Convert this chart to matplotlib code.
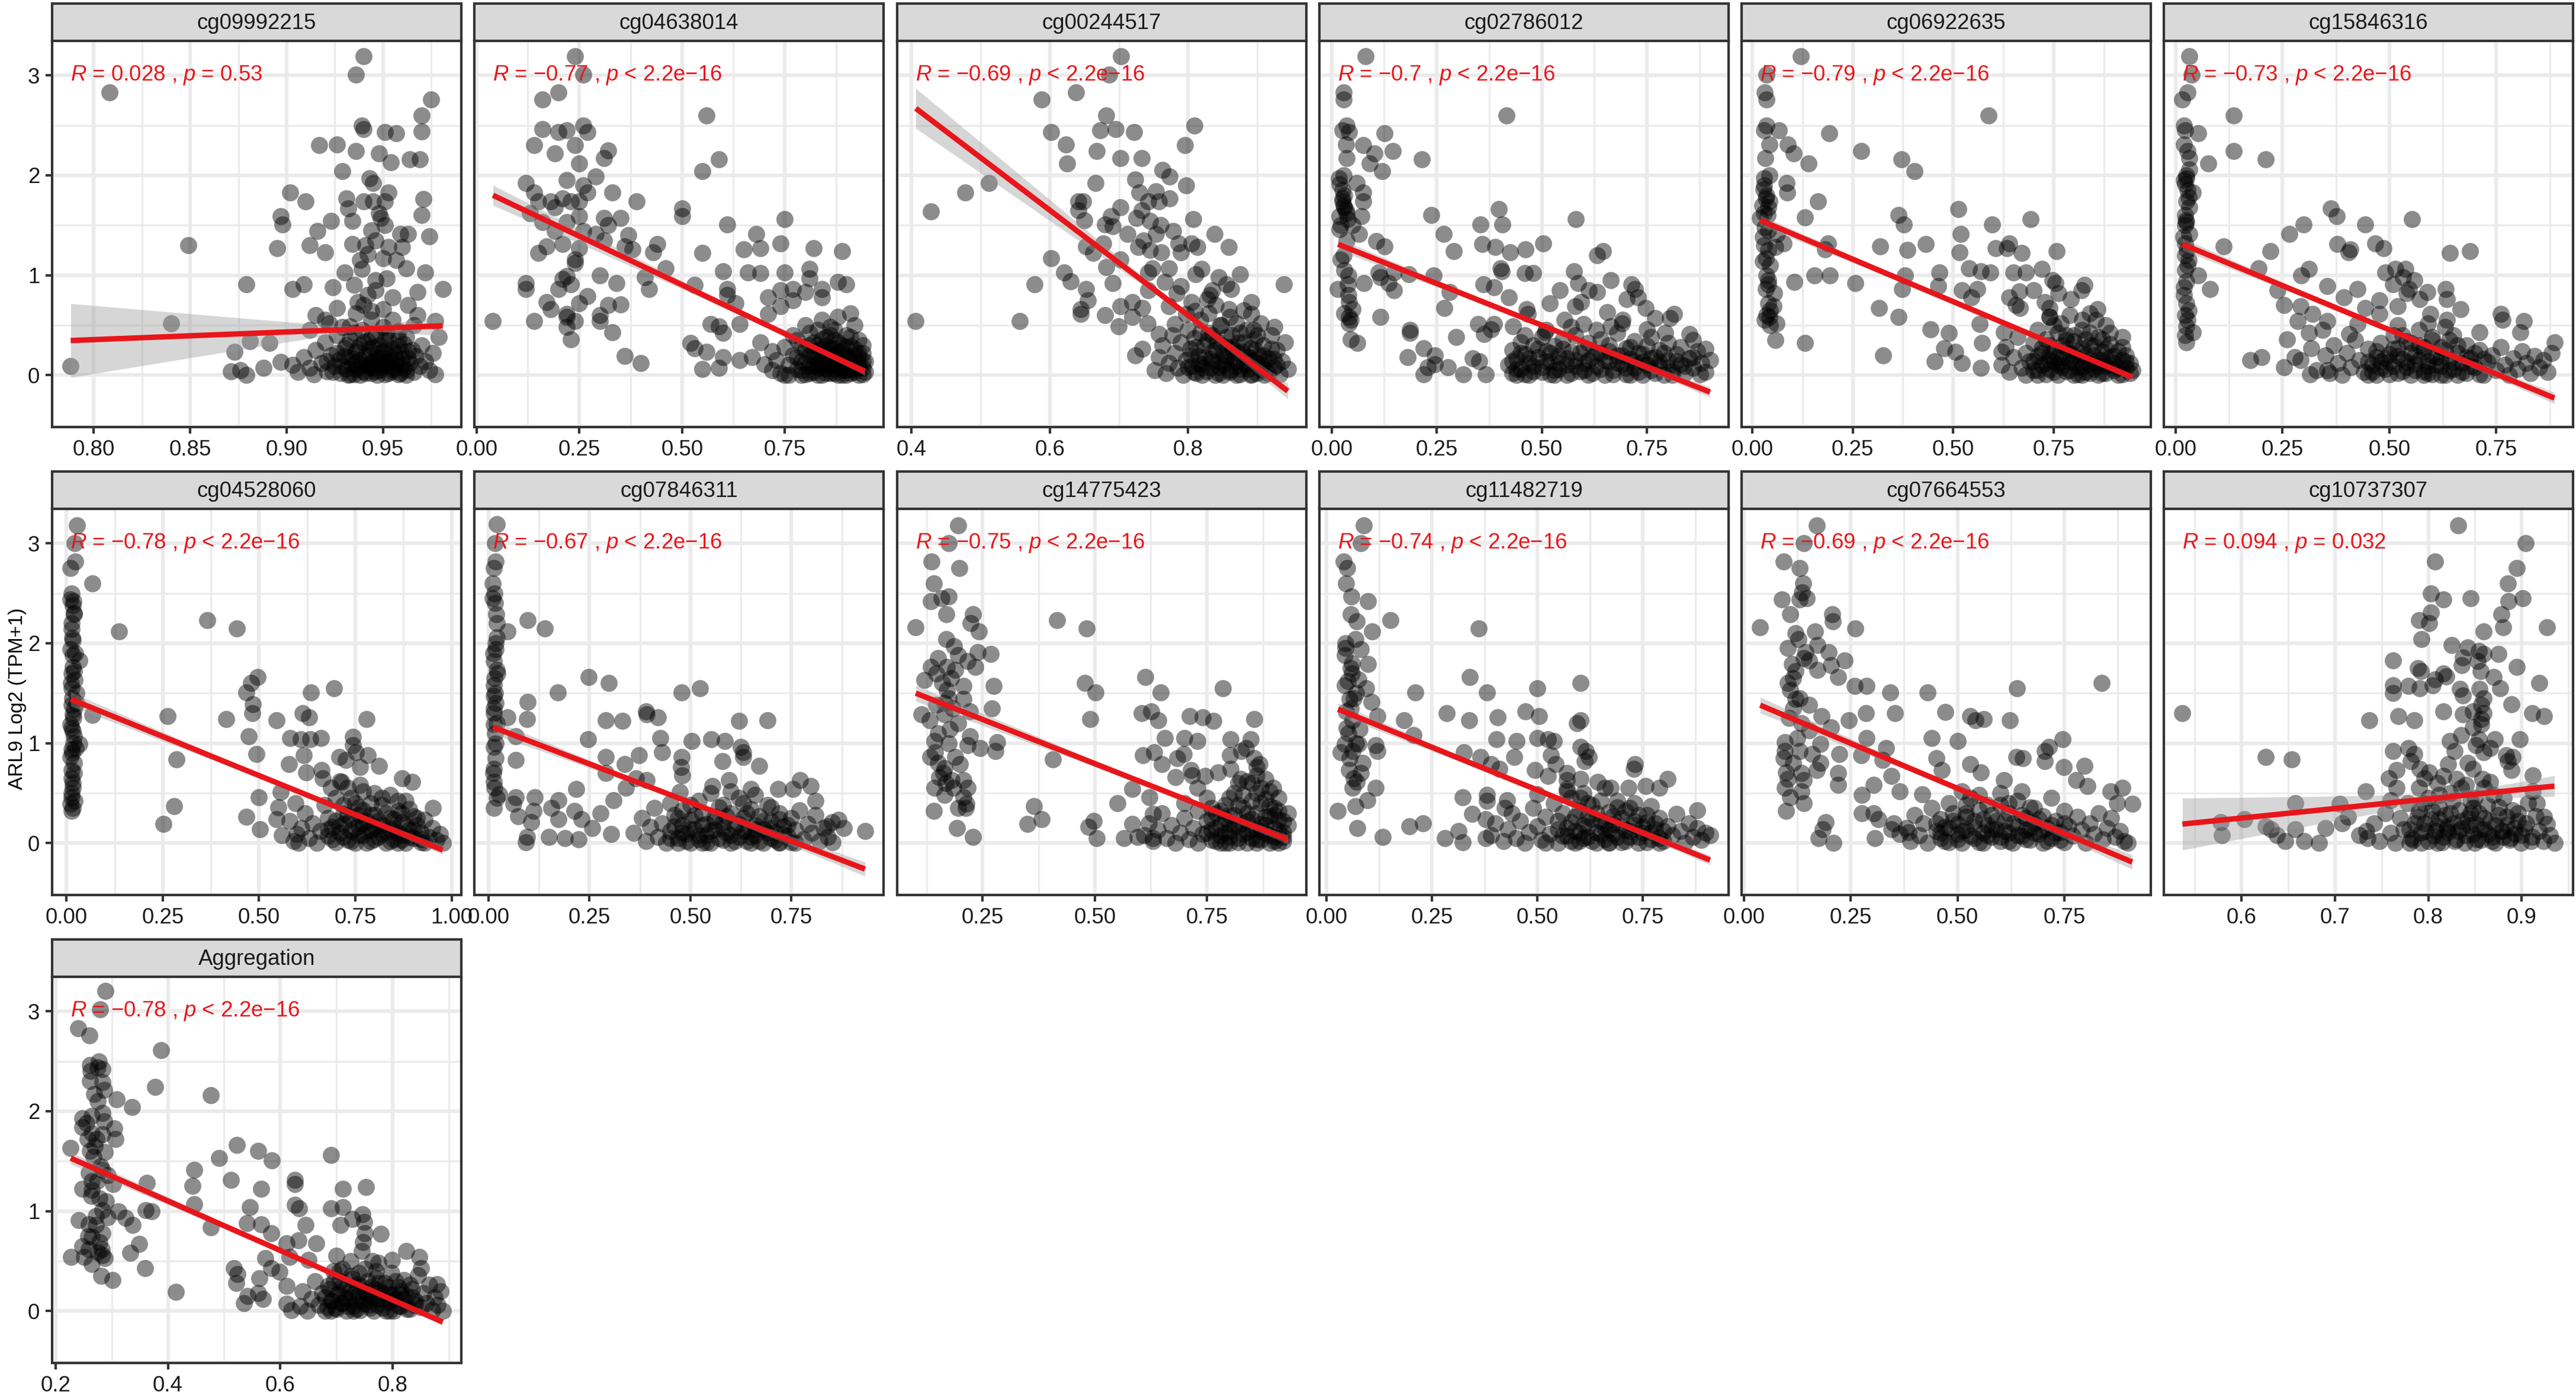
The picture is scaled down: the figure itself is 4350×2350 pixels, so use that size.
import numpy as np
import matplotlib
matplotlib.use('Agg')
import matplotlib.pyplot as plt

plt.rcParams['font.family'] = ['Liberation Sans', 'DejaVu Sans']
plt.rcParams['mathtext.fontset'] = 'custom'
plt.rcParams['mathtext.it'] = 'Liberation Sans:italic'
plt.rcParams['mathtext.rm'] = 'Liberation Sans'

panel_names = ['cg09992215', 'cg04638014', 'cg00244517', 'cg02786012', 'cg06922635', 'cg15846316',
               'cg04528060', 'cg07846311', 'cg14775423', 'cg11482719', 'cg07664553', 'cg10737307',
               'Aggregation']
r_labels = ['0.028', '\u22120.77', '\u22120.69', '\u22120.7', '\u22120.79', '\u22120.73',
            '\u22120.78', '\u22120.67', '\u22120.75', '\u22120.74', '\u22120.69', '0.094', '\u22120.78']
p_labels = ['= 0.53', '< 2.2e\u221216', '< 2.2e\u221216', '< 2.2e\u221216', '< 2.2e\u221216', '< 2.2e\u221216',
            '< 2.2e\u221216', '< 2.2e\u221216', '< 2.2e\u221216', '< 2.2e\u221216', '< 2.2e\u221216', '= 0.032',
            '< 2.2e\u221216']
fit_y_start = [0.346, 1.80, 2.67, 1.31, 1.55, 1.31, 1.44, 1.16, 1.50, 1.34, 1.38, 0.19, 1.53]
fit_y_end = [0.494, 0.035, -0.16, -0.17, -0.02, -0.23, -0.07, -0.26, 0.035, -0.17, -0.19, 0.57, -0.11]
band_center = [0.94, 0.74, 0.80, 0.50, 0.64, 0.47, 0.62, 0.47, 0.66, 0.53, 0.50, 0.83, 0.66]
band_hw_min = [0.03, 0.025, 0.03, 0.02, 0.02, 0.02, 0.02, 0.025, 0.025, 0.02, 0.025, 0.05, 0.02]
band_hw_start = [0.37, 0.10, 0.20, 0.06, 0.05, 0.06, 0.07, 0.07, 0.08, 0.06, 0.08, 0.26, 0.06]

q = [0.00, 0.25, 0.50, 0.75]
q_lab = ['0.00', '0.25', '0.50', '0.75']
x_ticks = [[0.80, 0.85, 0.90, 0.95], q, [0.4, 0.6, 0.8], q, q, q,
           [0.00, 0.25, 0.50, 0.75, 1.00], q, [0.25, 0.50, 0.75], q, q, [0.6, 0.7, 0.8, 0.9],
           [0.2, 0.4, 0.6, 0.8]]
x_tick_labels = [['0.80', '0.85', '0.90', '0.95'], q_lab, ['0.4', '0.6', '0.8'], q_lab, q_lab, q_lab,
                 ['0.00', '0.25', '0.50', '0.75', '1.00'], q_lab, ['0.25', '0.50', '0.75'], q_lab, q_lab,
                 ['0.6', '0.7', '0.8', '0.9'], ['0.2', '0.4', '0.6', '0.8']]
y_ticks = [0, 1, 2, 3]
y_tick_labels = ['0', '1', '2', '3']
y_minor = [-0.5, 0.5, 1.5, 2.5]
y_limits = (-0.52, 3.345)
y_title = 'ARL9 Log2 (TPM+1)'

# (x, y) pairs per panel
pts_cg09992215 = [
 0.940,3.19, 0.936,3.01, 0.808,2.83, 0.975,2.76, 0.970,2.60, 0.939,2.50, 0.940,2.46, 0.951,2.43, 0.957,2.42,
 0.970,2.44, 0.917,2.30, 0.926,2.31, 0.936,2.24, 0.948,2.22, 0.954,2.13, 0.964,2.16, 0.969,2.16, 0.929,2.04,
 0.943,1.97, 0.945,1.92, 0.902,1.83, 0.953,1.83, 0.910,1.74, 0.931,1.77, 0.971,1.76, 0.940,1.74, 0.945,1.74,
 0.932,1.67, 0.951,1.74, 0.897,1.59, 0.898,1.51, 0.923,1.54, 0.934,1.54, 0.949,1.57, 0.970,1.60, 0.916,1.44,
 0.959,1.41, 0.963,1.41, 0.974,1.39, 0.912,1.30, 0.895,1.27, 0.920,1.23, 0.934,1.31, 0.946,1.35, 0.953,1.28,
 0.960,1.28, 0.942,1.21, 0.950,1.17, 0.930,1.03, 0.939,1.06, 0.962,1.07, 0.972,1.03, 0.952,0.97, 0.924,0.88,
 0.909,0.91, 0.903,0.86, 0.879,0.91, 0.981,0.86, 0.968,0.83, 0.946,0.85, 0.955,0.78, 0.937,0.73, 0.963,0.70,
 0.926,0.67, 0.944,0.64, 0.915,0.60, 0.968,0.60, 0.840,0.52, 0.922,0.52, 0.955,0.55, 0.933,0.49, 0.977,0.54,
 0.849,1.30, 0.881,0.34, 0.891,0.32, 0.873,0.23, 0.979,0.38, 0.871,0.04, 0.876,0.05, 0.879,0.00, 0.888,0.07,
 0.897,0.13, 0.788,0.09, 0.977,0.01, 0.944,1.45, 0.948,1.62, 0.941,1.30, 0.951,1.50, 0.938,1.15, 0.946,0.95,
 0.942,0.80, 0.950,0.66, 0.935,0.90, 0.957,1.15,
 0.903,0.10, 0.906,0.03, 0.909,0.18, 0.912,0.07, 0.915,0.25, 0.914,0.01, 0.918,0.12, 0.920,0.33, 0.921,0.04,
 0.923,0.20, 0.925,0.09, 0.926,0.40, 0.927,0.15, 0.928,0.02, 0.930,0.27, 0.931,0.06, 0.932,0.18, 0.933,0.36,
 0.934,0.11, 0.935,0.01, 0.936,0.23, 0.937,0.08, 0.938,0.30, 0.938,0.15, 0.939,0.45, 0.940,0.04, 0.941,0.19,
 0.942,0.10, 0.942,0.34, 0.943,0.26, 0.944,0.02, 0.945,0.14, 0.945,0.07, 0.946,0.40, 0.947,0.22, 0.948,0.30,
 0.948,0.05, 0.949,0.12, 0.950,0.18, 0.951,0.01, 0.951,0.26, 0.952,0.09, 0.953,0.35, 0.954,0.15, 0.955,0.04,
 0.956,0.21, 0.957,0.11, 0.958,0.29, 0.959,0.02, 0.960,0.16, 0.961,0.07, 0.962,0.38, 0.963,0.24, 0.964,0.12,
 0.966,0.03, 0.967,0.19, 0.969,0.09, 0.970,0.30, 0.972,0.14, 0.974,0.05, 0.976,0.22, 0.929,0.48, 0.944,0.55,
 0.936,0.62, 0.950,0.48, 0.958,0.44, 0.920,0.55, 0.912,0.45, 0.966,0.50, 0.940,0.70, 0.932,0.00, 0.947,0.00,
 0.962,0.00, 0.955,0.06, 0.943,0.08, 0.936,0.13,
 0.921,0.14, 0.924,0.03, 0.926,0.22, 0.929,0.09, 0.931,0.30, 0.933,0.01, 0.934,0.16, 0.936,0.06, 0.937,0.26,
 0.939,0.11, 0.940,0.33, 0.941,0.02, 0.943,0.20, 0.944,0.12, 0.945,0.28, 0.946,0.04, 0.947,0.15, 0.949,0.08,
 0.950,0.24, 0.951,0.35, 0.952,0.13, 0.953,0.02, 0.954,0.19, 0.955,0.27, 0.956,0.07, 0.957,0.15, 0.958,0.01,
 0.959,0.23, 0.960,0.10, 0.961,0.31, 0.962,0.05, 0.963,0.17, 0.965,0.25, 0.930,0.19, 0.938,0.00, 0.948,0.17,
 0.944,0.38, 0.935,0.42, 0.952,0.43, 0.958,0.36]

pts_cg04638014 = [
 0.24,3.19, 0.26,3.01, 0.16,2.76, 0.20,2.83, 0.56,2.60, 0.16,2.46, 0.26,2.50, 0.20,2.43, 0.22,2.45, 0.27,2.43,
 0.14,2.30, 0.19,2.22, 0.24,2.30, 0.32,2.25, 0.31,2.17, 0.25,2.12, 0.59,2.16, 0.55,2.04, 0.29,1.99, 0.22,1.95,
 0.12,1.92, 0.26,1.90, 0.14,1.83, 0.27,1.83, 0.33,1.83, 0.15,1.74, 0.18,1.74, 0.21,1.77, 0.23,1.74, 0.25,1.74,
 0.19,1.68, 0.39,1.74, 0.50,1.67, 0.50,1.59, 0.25,1.59, 0.31,1.57, 0.35,1.57, 0.61,1.51, 0.75,1.56, 0.13,1.62,
 0.16,1.53, 0.22,1.53, 0.32,1.50, 0.19,1.44, 0.26,1.44, 0.29,1.41, 0.37,1.40, 0.68,1.41, 0.31,1.35, 0.36,1.29,
 0.44,1.31, 0.74,1.32, 0.17,1.29, 0.21,1.31, 0.25,1.27, 0.38,1.26, 0.65,1.26, 0.69,1.27, 0.82,1.27, 0.89,1.24,
 0.15,1.22, 0.55,1.22, 0.43,1.23, 0.24,1.16, 0.24,1.12, 0.46,1.07, 0.60,1.04, 0.66,1.03, 0.69,1.02, 0.75,1.03,
 0.81,1.06, 0.30,1.00, 0.22,0.99, 0.41,0.98, 0.81,0.97, 0.21,0.96, 0.12,0.92, 0.34,0.92, 0.23,0.91, 0.88,0.93,
 0.90,0.91, 0.12,0.86, 0.20,0.86, 0.53,0.90, 0.61,0.86, 0.42,0.86, 0.74,0.85, 0.77,0.86, 0.80,0.83, 0.84,0.86,
 0.61,0.80, 0.71,0.78, 0.84,0.78, 0.27,0.79, 0.17,0.73, 0.25,0.72, 0.32,0.70, 0.35,0.71, 0.63,0.72, 0.74,0.69,
 0.77,0.75, 0.18,0.66, 0.22,0.61, 0.30,0.60, 0.22,0.58, 0.71,0.61, 0.04,0.54, 0.14,0.54, 0.24,0.54, 0.30,0.54,
 0.57,0.51, 0.59,0.49, 0.64,0.51, 0.22,0.48, 0.33,0.43, 0.60,0.42, 0.23,0.36, 0.36,0.19, 0.40,0.12, 0.52,0.32,
 0.53,0.27, 0.56,0.23, 0.55,0.06, 0.59,0.07, 0.60,0.18, 0.64,0.15, 0.67,0.18, 0.69,0.33, 0.70,0.11, 0.72,0.24,
 0.72,0.05, 0.73,0.15, 0.74,0.02, 0.75,0.28, 0.76,0.10, 0.76,0.00, 0.77,0.20, 0.78,0.06, 0.78,0.35, 0.79,0.14,
 0.80,0.01, 0.80,0.25, 0.81,0.09, 0.81,0.42, 0.82,0.18, 0.82,0.03, 0.83,0.30, 0.83,0.11, 0.84,0.22, 0.84,0.00,
 0.85,0.15, 0.85,0.38, 0.85,0.06, 0.86,0.27, 0.86,0.12, 0.87,0.02, 0.87,0.45, 0.87,0.19, 0.88,0.08, 0.88,0.33,
 0.89,0.14, 0.89,0.00, 0.89,0.24, 0.90,0.05, 0.90,0.40, 0.90,0.17, 0.91,0.10, 0.91,0.29, 0.92,0.03, 0.92,0.20,
 0.92,0.50, 0.93,0.12, 0.93,0.35, 0.93,0.00, 0.94,0.07, 0.94,0.22, 0.945,0.14, 0.945,0.03, 0.80,0.50, 0.84,0.55,
 0.88,0.58, 0.91,0.62, 0.86,0.48, 0.83,0.45, 0.77,0.40, 0.79,0.00, 0.82,0.10, 0.86,0.02, 0.88,0.12, 0.90,0.00,
 0.92,0.09, 0.94,0.30, 0.75,0.00, 0.81,0.30, 0.84,0.08, 0.87,0.27, 0.89,0.05, 0.91,0.02, 0.93,0.18, 0.85,0.22,
 0.78,0.18, 0.79,0.05, 0.79,0.28, 0.80,0.12, 0.81,0.20, 0.81,0.02, 0.82,0.33, 0.83,0.07, 0.83,0.17, 0.84,0.27,
 0.84,0.12, 0.85,0.02, 0.85,0.30, 0.86,0.09, 0.86,0.19, 0.87,0.35, 0.87,0.06, 0.88,0.15, 0.88,0.24, 0.88,0.00,
 0.89,0.10, 0.89,0.30, 0.90,0.20, 0.90,0.08, 0.91,0.15, 0.91,0.38, 0.92,0.06, 0.92,0.26, 0.93,0.08, 0.93,0.22,
 0.94,0.14, 0.94,0.01, 0.82,0.24, 0.84,0.36, 0.86,0.40, 0.90,0.28, 0.87,0.11, 0.85,0.10, 0.83,0.00, 0.91,0.06]

pts_cg00244517 = [
 0.703,3.19, 0.686,3.01, 0.638,2.83, 0.588,2.76, 0.681,2.60, 0.809,2.50, 0.602,2.43, 0.673,2.45, 0.695,2.46,
 0.722,2.43, 0.623,2.31, 0.668,2.24, 0.795,2.30, 0.625,2.12, 0.702,2.17, 0.733,2.17, 0.763,2.05, 0.773,1.99,
 0.723,1.96, 0.666,1.92, 0.797,1.90, 0.512,1.92, 0.478,1.83, 0.428,1.64, 0.729,1.83, 0.753,1.84, 0.773,1.77,
 0.641,1.74, 0.648,1.74, 0.742,1.74, 0.758,1.74, 0.702,1.68, 0.733,1.65, 0.641,1.65, 0.688,1.59, 0.725,1.57,
 0.807,1.56, 0.650,1.55, 0.745,1.54, 0.680,1.51, 0.760,1.50, 0.691,1.49, 0.778,1.44, 0.838,1.41, 0.712,1.41,
 0.753,1.41, 0.735,1.35, 0.677,1.32, 0.786,1.32, 0.805,1.32, 0.859,1.28, 0.652,1.29, 0.728,1.28, 0.745,1.25,
 0.761,1.23, 0.789,1.23, 0.813,1.28, 0.663,1.22, 0.602,1.17, 0.702,1.16, 0.748,1.07, 0.772,1.07, 0.681,1.08,
 0.819,1.06, 0.875,1.01, 0.742,1.03, 0.811,1.01, 0.621,1.03, 0.844,0.98, 0.630,0.94, 0.578,0.91, 0.691,0.92,
 0.766,0.93, 0.789,0.89, 0.855,0.91, 0.938,0.91, 0.652,0.86, 0.835,0.85, 0.862,0.86, 0.783,0.82, 0.742,0.85,
 0.831,0.80, 0.655,0.75, 0.719,0.73, 0.805,0.73, 0.828,0.76, 0.891,0.73, 0.645,0.66, 0.645,0.61, 0.702,0.69,
 0.734,0.67, 0.772,0.69, 0.859,0.66, 0.891,0.61, 0.680,0.60, 0.719,0.58, 0.797,0.61, 0.406,0.54, 0.556,0.54,
 0.699,0.49, 0.741,0.52, 0.781,0.51, 0.758,0.41, 0.723,0.20, 0.734,0.26,
 0.752,0.05, 0.758,0.18, 0.763,0.30, 0.768,0.02, 0.772,0.12, 0.777,0.40, 0.781,0.22, 0.785,0.07, 0.789,0.33,
 0.793,0.00, 0.797,0.15, 0.800,0.45, 0.803,0.26, 0.806,0.09, 0.809,0.37, 0.812,0.02, 0.815,0.19, 0.818,0.55,
 0.821,0.11, 0.824,0.30, 0.827,0.04, 0.830,0.42, 0.833,0.16, 0.836,0.24, 0.839,0.00, 0.842,0.34, 0.845,0.08,
 0.848,0.50, 0.851,0.20, 0.854,0.13, 0.857,0.28, 0.860,0.03, 0.863,0.40, 0.866,0.17, 0.869,0.09, 0.872,0.32,
 0.875,0.01, 0.878,0.23, 0.881,0.12, 0.884,0.45, 0.887,0.06, 0.890,0.27, 0.893,0.15, 0.896,0.36, 0.899,0.02,
 0.902,0.20, 0.905,0.10, 0.908,0.30, 0.912,0.05, 0.916,0.17, 0.920,0.40, 0.924,0.08, 0.928,0.25, 0.932,0.01,
 0.936,0.14, 0.940,0.33, 0.944,0.06, 0.830,0.62, 0.860,0.58, 0.880,0.65, 0.905,0.52, 0.850,0.00, 0.870,0.00,
 0.890,0.00, 0.910,0.00, 0.820,0.07, 0.845,0.14, 0.865,0.25, 0.885,0.18, 0.900,0.40, 0.925,0.48, 0.840,0.70,
 0.810,0.64,
 0.800,0.08, 0.804,0.20, 0.808,0.03, 0.812,0.28, 0.816,0.12, 0.820,0.00, 0.824,0.18, 0.828,0.35, 0.832,0.07,
 0.836,0.14, 0.840,0.25, 0.844,0.02, 0.848,0.30, 0.852,0.10, 0.856,0.19, 0.860,0.05, 0.864,0.28, 0.868,0.13,
 0.872,0.22, 0.876,0.06, 0.880,0.33, 0.884,0.10, 0.888,0.18, 0.892,0.01, 0.896,0.25, 0.900,0.12, 0.904,0.06,
 0.908,0.20, 0.912,0.14, 0.916,0.02, 0.920,0.26, 0.924,0.16, 0.928,0.10, 0.835,0.40, 0.855,0.38, 0.875,0.42,
 0.895,0.45, 0.818,0.42, 0.846,0.50, 0.870,0.52]

pts_cg02786012 = [
 0.081,3.19, 0.028,2.83, 0.028,2.76, 0.416,2.60, 0.036,2.50, 0.026,2.45, 0.041,2.43, 0.126,2.42, 0.034,2.31,
 0.075,2.30, 0.146,2.24, 0.102,2.22, 0.036,2.17, 0.215,2.16, 0.090,2.12, 0.120,2.04, 0.017,1.97, 0.028,2.00,
 0.019,1.91, 0.059,1.92, 0.075,1.83, 0.026,1.77, 0.026,1.74, 0.075,1.74, 0.034,1.65, 0.019,1.59, 0.039,1.56,
 0.071,1.59, 0.397,1.66, 0.237,1.60, 0.581,1.56, 0.354,1.51, 0.406,1.51, 0.019,1.46, 0.049,1.50, 0.065,1.41,
 0.267,1.41, 0.106,1.34, 0.358,1.31, 0.389,1.28, 0.503,1.32, 0.126,1.29, 0.461,1.26, 0.425,1.23, 0.291,1.24,
 0.646,1.24, 0.632,1.20, 0.022,1.16, 0.402,1.07, 0.576,1.04, 0.460,1.02, 0.479,1.02, 0.148,1.03, 0.184,1.01,
 0.242,1.00, 0.112,1.03, 0.116,0.98, 0.405,1.04, 0.664,0.95, 0.077,0.92, 0.135,0.92, 0.361,0.91, 0.713,0.91,
 0.015,0.86, 0.039,0.91, 0.148,0.85, 0.281,0.83, 0.387,0.88, 0.543,0.85, 0.586,0.92, 0.612,0.85, 0.632,0.83,
 0.722,0.86, 0.421,0.78, 0.702,0.76, 0.728,0.78, 0.041,0.73, 0.049,0.66, 0.268,0.67, 0.464,0.66, 0.519,0.72,
 0.580,0.69, 0.593,0.73, 0.747,0.67, 0.655,0.63, 0.814,0.61, 0.041,0.58, 0.116,0.58, 0.466,0.61, 0.554,0.55,
 0.692,0.55, 0.769,0.57, 0.805,0.57, 0.041,0.52, 0.348,0.51, 0.387,0.51, 0.432,0.49, 0.599,0.51, 0.664,0.49,
 0.187,0.45, 0.380,0.46, 0.187,0.42, 0.363,0.41, 0.508,0.43, 0.793,0.42, 0.851,0.41, 0.296,0.38, 0.045,0.36,
 0.061,0.32, 0.219,0.27, 0.180,0.18, 0.245,0.20, 0.335,0.17, 0.351,0.14, 0.277,0.08, 0.229,0.08, 0.219,0.01,
 0.313,0.01, 0.367,0.01, 0.245,0.11, 0.876,0.01, 0.030,1.80, 0.028,1.70, 0.035,1.62, 0.030,1.05, 0.040,0.80,
 0.025,1.85, 0.030,1.68, 0.022,1.50, 0.035,1.35, 0.028,1.20, 0.040,1.00, 0.030,0.62, 0.045,0.55,
 0.42,0.10, 0.43,0.25, 0.43,0.02, 0.44,0.17, 0.45,0.33, 0.45,0.06, 0.46,0.21, 0.47,0.00, 0.47,0.12, 0.48,0.30,
 0.48,0.04, 0.49,0.18, 0.50,0.08, 0.50,0.38, 0.51,0.24, 0.52,0.01, 0.52,0.14, 0.53,0.29, 0.54,0.06, 0.54,0.19,
 0.55,0.35, 0.56,0.10, 0.56,0.00, 0.57,0.23, 0.58,0.15, 0.58,0.40, 0.59,0.04, 0.60,0.27, 0.60,0.12, 0.61,0.32,
 0.62,0.02, 0.62,0.18, 0.63,0.09, 0.64,0.36, 0.64,0.22, 0.65,0.00, 0.66,0.14, 0.66,0.30, 0.67,0.05, 0.68,0.20,
 0.68,0.42, 0.69,0.11, 0.70,0.27, 0.70,0.01, 0.71,0.16, 0.72,0.34, 0.72,0.07, 0.73,0.22, 0.74,0.00, 0.74,0.13,
 0.75,0.29, 0.76,0.05, 0.76,0.38, 0.77,0.18, 0.78,0.09, 0.78,0.25, 0.79,0.00, 0.80,0.15, 0.80,0.32, 0.81,0.04,
 0.82,0.21, 0.83,0.11, 0.83,0.28, 0.84,0.02, 0.85,0.17, 0.86,0.07, 0.86,0.35, 0.87,0.24, 0.88,0.12, 0.89,0.03,
 0.89,0.26, 0.90,0.15, 0.46,0.40, 0.51,0.45, 0.57,0.48, 0.63,0.45, 0.69,0.52, 0.75,0.46, 0.44,0.00, 0.53,0.00,
 0.61,0.00, 0.71,0.00, 0.81,0.00,
 0.43,0.14, 0.44,0.06, 0.45,0.22, 0.46,0.01, 0.47,0.17, 0.48,0.09, 0.49,0.26, 0.50,0.03, 0.51,0.14, 0.52,0.22,
 0.53,0.05, 0.54,0.12, 0.55,0.26, 0.56,0.17, 0.57,0.02, 0.58,0.09, 0.59,0.22, 0.60,0.05, 0.61,0.15, 0.63,0.22,
 0.64,0.06, 0.65,0.15, 0.66,0.24, 0.67,0.01, 0.68,0.12, 0.69,0.20, 0.70,0.07, 0.71,0.28, 0.72,0.14, 0.73,0.03,
 0.74,0.21, 0.75,0.10, 0.76,0.17, 0.77,0.02, 0.78,0.13, 0.79,0.22, 0.80,0.07, 0.82,0.14, 0.84,0.09, 0.86,0.18]

pts_cg06922635 = [
 0.121,3.19, 0.035,3.01, 0.031,2.83, 0.035,2.76, 0.588,2.60, 0.035,2.50, 0.030,2.45, 0.067,2.45, 0.191,2.42,
 0.043,2.31, 0.089,2.31, 0.104,2.22, 0.271,2.24, 0.032,2.17, 0.140,2.12, 0.372,2.16, 0.404,2.04, 0.030,1.97,
 0.043,2.00, 0.085,1.92, 0.028,1.86, 0.087,1.83, 0.034,1.77, 0.043,1.74, 0.164,1.74, 0.040,1.68, 0.512,1.66,
 0.132,1.58, 0.364,1.60, 0.377,1.51, 0.020,1.57, 0.596,1.51, 0.693,1.56, 0.031,1.48, 0.027,1.38, 0.062,1.41,
 0.518,1.41, 0.188,1.32, 0.078,1.32, 0.318,1.29, 0.431,1.31, 0.057,1.28, 0.182,1.26, 0.386,1.25, 0.516,1.23,
 0.606,1.27, 0.633,1.27, 0.670,1.22, 0.757,1.24, 0.640,1.32, 0.034,1.17, 0.027,1.14, 0.539,1.07, 0.568,1.04,
 0.592,1.03, 0.649,1.03, 0.681,1.03, 0.720,1.06, 0.465,1.03, 0.155,1.00, 0.193,1.00, 0.380,1.00, 0.105,0.93,
 0.256,0.92, 0.747,0.95, 0.754,0.92, 0.040,0.91, 0.034,0.86, 0.055,0.82, 0.373,0.86, 0.462,0.89, 0.521,0.85,
 0.560,0.86, 0.664,0.84, 0.700,0.85, 0.762,0.82, 0.826,0.90, 0.819,0.85, 0.545,0.78, 0.640,0.78, 0.727,0.73,
 0.792,0.76, 0.040,0.72, 0.054,0.69, 0.316,0.67, 0.656,0.70, 0.666,0.67, 0.740,0.67, 0.859,0.66, 0.043,0.58,
 0.364,0.58, 0.566,0.51, 0.740,0.58, 0.768,0.52, 0.855,0.55, 0.031,0.55, 0.061,0.52, 0.444,0.46, 0.489,0.42,
 0.626,0.43, 0.571,0.32, 0.057,0.35, 0.132,0.32, 0.478,0.27, 0.326,0.20, 0.454,0.14, 0.521,0.12, 0.568,0.07,
 0.505,0.23, 0.620,0.23, 0.035,1.80, 0.030,1.62, 0.040,1.25, 0.035,1.00, 0.045,0.65,
 0.030,1.90, 0.025,1.70, 0.038,1.60, 0.040,1.45, 0.030,1.30, 0.045,1.10, 0.040,0.95, 0.035,0.60, 0.045,0.50,
 0.62,0.10, 0.63,0.28, 0.64,0.03, 0.65,0.18, 0.66,0.38, 0.67,0.07, 0.68,0.22, 0.68,0.00, 0.69,0.14, 0.70,0.32,
 0.70,0.05, 0.71,0.45, 0.71,0.19, 0.72,0.10, 0.72,0.27, 0.73,0.01, 0.73,0.36, 0.74,0.15, 0.74,0.06, 0.75,0.24,
 0.75,0.50, 0.76,0.11, 0.76,0.00, 0.77,0.30, 0.77,0.18, 0.78,0.04, 0.78,0.40, 0.79,0.13, 0.79,0.22, 0.80,0.00,
 0.80,0.34, 0.81,0.08, 0.81,0.16, 0.82,0.27, 0.82,0.55, 0.83,0.03, 0.83,0.20, 0.84,0.11, 0.84,0.42, 0.85,0.06,
 0.85,0.29, 0.86,0.15, 0.86,0.00, 0.87,0.23, 0.87,0.36, 0.88,0.09, 0.88,0.02, 0.89,0.18, 0.89,0.31, 0.90,0.12,
 0.90,0.05, 0.91,0.24, 0.91,0.00, 0.92,0.15, 0.92,0.38, 0.93,0.07, 0.93,0.20, 0.94,0.02, 0.94,0.12, 0.945,0.05,
 0.79,0.60, 0.84,0.62, 0.74,0.58, 0.88,0.50, 0.71,0.00, 0.75,0.14, 0.80,0.20, 0.85,0.13, 0.82,0.00, 0.77,0.08,
 0.70,0.14, 0.71,0.05, 0.72,0.22, 0.73,0.12, 0.74,0.30, 0.75,0.03, 0.76,0.18, 0.77,0.10, 0.78,0.26, 0.79,0.05,
 0.80,0.14, 0.80,0.40, 0.81,0.24, 0.82,0.08, 0.83,0.14, 0.84,0.30, 0.84,0.02, 0.85,0.20, 0.86,0.09, 0.87,0.15,
 0.87,0.02, 0.88,0.26, 0.89,0.10, 0.90,0.19, 0.91,0.07, 0.92,0.28, 0.92,0.01, 0.93,0.13, 0.78,0.35, 0.82,0.45,
 0.86,0.38, 0.76,0.42, 0.83,0.36, 0.89,0.42, 0.81,0.01, 0.74,0.20]

pts_cg15846316 = [
 0.032,3.19, 0.038,3.01, 0.028,2.83, 0.016,2.76, 0.136,2.60, 0.019,2.50, 0.023,2.45, 0.053,2.42, 0.019,2.31,
 0.028,2.24, 0.136,2.24, 0.076,2.12, 0.211,2.16, 0.032,2.17, 0.032,2.06, 0.025,1.97, 0.023,1.91, 0.041,1.83,
 0.025,1.74, 0.032,1.68, 0.023,1.60, 0.363,1.67, 0.377,1.59, 0.299,1.51, 0.444,1.51, 0.553,1.56, 0.025,1.53,
 0.266,1.41, 0.032,1.41, 0.023,1.32, 0.112,1.29, 0.222,1.24, 0.378,1.31, 0.409,1.26, 0.404,1.23, 0.467,1.32,
 0.486,1.27, 0.641,1.22, 0.689,1.24, 0.023,1.20, 0.028,1.10, 0.194,1.07, 0.312,1.06, 0.294,1.00, 0.490,1.03,
 0.514,1.06, 0.537,1.06, 0.558,0.95, 0.532,0.98, 0.053,1.00, 0.025,0.94, 0.355,0.89, 0.425,0.86, 0.508,0.91,
 0.546,0.86, 0.632,0.86, 0.080,0.86, 0.239,0.85, 0.393,0.78, 0.476,0.75, 0.541,0.82, 0.589,0.83, 0.635,0.76,
 0.571,0.76, 0.025,0.72, 0.254,0.70, 0.293,0.69, 0.444,0.67, 0.520,0.69, 0.666,0.66, 0.023,0.60, 0.320,0.61,
 0.476,0.61, 0.596,0.61, 0.761,0.61, 0.286,0.54, 0.355,0.54, 0.425,0.51, 0.590,0.52, 0.635,0.55, 0.815,0.54,
 0.764,0.55, 0.025,0.49, 0.041,0.43, 0.343,0.45, 0.312,0.42, 0.406,0.41, 0.711,0.43, 0.806,0.43, 0.025,0.33,
 0.260,0.36, 0.886,0.33, 0.317,0.27, 0.175,0.15, 0.201,0.18, 0.254,0.08, 0.279,0.18, 0.292,0.15, 0.315,0.01,
 0.355,0.05, 0.028,1.85, 0.022,1.50, 0.030,1.15, 0.020,0.80, 0.030,0.65, 0.025,2.00,
 0.020,1.95, 0.030,1.78, 0.024,1.55, 0.018,1.38, 0.027,1.25, 0.022,1.05, 0.020,0.88, 0.028,0.55, 0.022,0.40,
 0.33,0.05, 0.35,0.20, 0.36,0.02, 0.37,0.30, 0.38,0.12, 0.39,0.00, 0.40,0.22, 0.41,0.08, 0.42,0.35, 0.43,0.15,
 0.44,0.03, 0.45,0.26, 0.46,0.10, 0.47,0.18, 0.47,0.00, 0.48,0.32, 0.49,0.06, 0.50,0.21, 0.50,0.13, 0.51,0.40,
 0.52,0.02, 0.52,0.27, 0.53,0.16, 0.54,0.08, 0.54,0.34, 0.55,0.00, 0.56,0.20, 0.56,0.11, 0.57,0.30, 0.58,0.04,
 0.58,0.24, 0.59,0.14, 0.60,0.38, 0.60,0.01, 0.61,0.18, 0.62,0.09, 0.62,0.28, 0.63,0.00, 0.64,0.15, 0.64,0.35,
 0.65,0.06, 0.66,0.22, 0.67,0.12, 0.68,0.02, 0.68,0.30, 0.69,0.17, 0.70,0.08, 0.71,0.25, 0.72,0.00, 0.73,0.13,
 0.74,0.20, 0.75,0.05, 0.76,0.28, 0.77,0.10, 0.78,0.00, 0.79,0.17, 0.80,0.06, 0.81,0.24, 0.82,0.12, 0.83,0.02,
 0.84,0.19, 0.85,0.08, 0.86,0.15, 0.87,0.03, 0.88,0.22, 0.57,0.45, 0.63,0.48, 0.52,0.50, 0.45,0.00, 0.66,0.00,
 0.59,0.09, 0.48,0.14,
 0.45,0.13, 0.46,0.03, 0.47,0.24, 0.48,0.07, 0.49,0.17, 0.50,0.01, 0.51,0.26, 0.51,0.09, 0.52,0.19, 0.53,0.04,
 0.54,0.13, 0.55,0.22, 0.56,0.05, 0.57,0.15, 0.58,0.28, 0.59,0.02, 0.60,0.20, 0.61,0.10, 0.62,0.17, 0.63,0.25,
 0.64,0.05, 0.65,0.13, 0.66,0.30, 0.67,0.03, 0.68,0.18, 0.69,0.09, 0.70,0.22, 0.71,0.01, 0.72,0.16, 0.55,0.32,
 0.60,0.35, 0.65,0.40, 0.53,0.40, 0.58,0.00, 0.62,0.00]

pts_cg04528060 = [
 0.028,3.18, 0.021,3.00, 0.023,2.82, 0.011,2.75, 0.067,2.60, 0.014,2.50, 0.011,2.44, 0.017,2.38, 0.020,2.29,
 0.014,2.20, 0.014,2.14, 0.136,2.12, 0.365,2.23, 0.443,2.15, 0.017,2.03, 0.011,1.94, 0.033,1.83, 0.017,1.76,
 0.014,1.70, 0.021,1.63, 0.014,1.55, 0.025,1.50, 0.496,1.66, 0.479,1.60, 0.467,1.51, 0.635,1.51, 0.694,1.55,
 0.484,1.39, 0.014,1.38, 0.017,1.29, 0.067,1.28, 0.263,1.27, 0.415,1.24, 0.482,1.30, 0.545,1.23, 0.613,1.30,
 0.630,1.26, 0.779,1.24, 0.011,1.19, 0.020,1.07, 0.473,1.07, 0.581,1.05, 0.609,1.04, 0.633,1.04, 0.661,1.05,
 0.744,1.06, 0.034,0.99, 0.014,0.94, 0.744,0.98, 0.493,0.89, 0.011,0.86, 0.286,0.84, 0.616,0.88, 0.708,0.86,
 0.725,0.83, 0.751,0.91, 0.782,0.88, 0.578,0.79, 0.812,0.77, 0.014,0.73, 0.623,0.71, 0.663,0.73, 0.666,0.65,
 0.014,0.65, 0.762,0.76, 0.871,0.65, 0.897,0.61, 0.715,0.61, 0.017,0.55, 0.557,0.51, 0.687,0.55, 0.762,0.58,
 0.014,0.46, 0.499,0.46, 0.595,0.40, 0.011,0.39, 0.014,0.32, 0.280,0.37, 0.550,0.36, 0.952,0.35, 0.467,0.26,
 0.252,0.19, 0.545,0.24, 0.503,0.14, 0.598,0.09, 0.602,0.00, 0.977,0.00, 0.018,2.42, 0.016,1.88, 0.019,1.72,
 0.015,1.45, 0.020,1.34, 0.016,1.12, 0.018,1.00, 0.015,0.90, 0.020,0.70, 0.016,0.60,
 0.020,2.30, 0.015,2.05, 0.022,1.90, 0.012,1.60, 0.025,1.40, 0.018,1.25, 0.013,1.15, 0.024,0.95, 0.019,0.80,
 0.013,0.50, 0.021,0.42, 0.016,0.35,
 0.56,0.08, 0.58,0.22, 0.59,0.02, 0.61,0.15, 0.62,0.30, 0.63,0.05, 0.64,0.20, 0.65,0.00, 0.66,0.12, 0.67,0.38,
 0.68,0.07, 0.68,0.25, 0.69,0.16, 0.70,0.01, 0.70,0.45, 0.71,0.10, 0.72,0.30, 0.72,0.19, 0.73,0.03, 0.74,0.24,
 0.74,0.12, 0.75,0.40, 0.75,0.00, 0.76,0.17, 0.77,0.08, 0.77,0.33, 0.78,0.22, 0.79,0.02, 0.79,0.13, 0.80,0.28,
 0.80,0.50, 0.81,0.06, 0.82,0.18, 0.82,0.38, 0.83,0.00, 0.83,0.11, 0.84,0.25, 0.85,0.04, 0.85,0.15, 0.86,0.32,
 0.87,0.08, 0.87,0.21, 0.88,0.00, 0.88,0.42, 0.89,0.13, 0.90,0.27, 0.90,0.05, 0.91,0.18, 0.92,0.01, 0.92,0.10,
 0.93,0.23, 0.94,0.06, 0.95,0.15, 0.96,0.03, 0.97,0.09, 0.73,0.55, 0.77,0.52, 0.84,0.48, 0.71,0.62, 0.78,0.00,
 0.86,0.00, 0.93,0.00, 0.81,0.14, 0.76,0.28,
 0.68,0.14, 0.69,0.04, 0.70,0.22, 0.71,0.17, 0.72,0.06, 0.73,0.28, 0.74,0.02, 0.75,0.15, 0.76,0.08, 0.76,0.36,
 0.77,0.20, 0.78,0.12, 0.79,0.28, 0.80,0.04, 0.80,0.17, 0.81,0.22, 0.82,0.09, 0.83,0.30, 0.84,0.02, 0.84,0.14,
 0.85,0.24, 0.86,0.10, 0.87,0.03, 0.87,0.30, 0.88,0.18, 0.89,0.06, 0.90,0.13, 0.91,0.25, 0.92,0.04, 0.74,0.45,
 0.79,0.40, 0.82,0.45, 0.86,0.42, 0.72,0.38, 0.89,0.34]

pts_cg07846311 = [
 0.020,3.19, 0.016,3.00, 0.018,2.82, 0.014,2.75, 0.011,2.60, 0.011,2.45, 0.019,2.29, 0.097,2.23, 0.139,2.15,
 0.047,2.12, 0.020,2.06, 0.018,1.94, 0.014,1.82, 0.020,1.73, 0.014,1.58, 0.248,1.66, 0.298,1.60, 0.171,1.51,
 0.478,1.51, 0.524,1.55, 0.097,1.41, 0.014,1.47, 0.014,1.35, 0.390,1.32, 0.392,1.29, 0.419,1.26, 0.291,1.23,
 0.332,1.22, 0.047,1.26, 0.095,1.24, 0.620,1.22, 0.690,1.23, 0.014,1.19, 0.068,1.07, 0.246,1.04, 0.426,1.05,
 0.503,1.02, 0.551,1.04, 0.585,1.02, 0.625,0.96, 0.630,0.91, 0.014,0.96, 0.372,0.88, 0.430,0.91, 0.291,0.86,
 0.478,0.86, 0.630,0.86, 0.068,0.83, 0.579,0.82, 0.670,0.77, 0.338,0.79, 0.014,0.74, 0.476,0.76, 0.480,0.68,
 0.291,0.70, 0.365,0.65, 0.014,0.61, 0.392,0.63, 0.595,0.63, 0.771,0.63, 0.798,0.57, 0.753,0.54, 0.717,0.54,
 0.217,0.54, 0.341,0.55, 0.555,0.57, 0.650,0.54, 0.027,0.49, 0.474,0.51, 0.068,0.46, 0.115,0.46, 0.173,0.43,
 0.309,0.43, 0.809,0.42, 0.014,0.35, 0.061,0.39, 0.111,0.32, 0.156,0.35, 0.212,0.32, 0.277,0.30, 0.173,0.24,
 0.230,0.24, 0.074,0.27, 0.106,0.21, 0.095,0.06, 0.092,0.01, 0.149,0.06, 0.189,0.05, 0.223,0.04, 0.257,0.15,
 0.304,0.09, 0.932,0.12, 0.866,0.23, 0.852,0.01, 0.880,0.15, 0.839,0.17, 0.016,2.40, 0.018,2.00, 0.015,1.65,
 0.017,1.40, 0.016,1.10, 0.018,0.85, 0.015,0.55,
 0.015,2.50, 0.020,2.20, 0.012,1.90, 0.022,1.70, 0.016,1.50, 0.013,1.30, 0.021,1.20, 0.017,1.00, 0.012,0.70,
 0.020,0.45,
 0.36,0.10, 0.38,0.25, 0.39,0.02, 0.40,0.16, 0.41,0.35, 0.42,0.06, 0.43,0.20, 0.44,0.00, 0.45,0.12, 0.45,0.40,
 0.46,0.28, 0.47,0.05, 0.48,0.18, 0.48,0.33, 0.49,0.09, 0.50,0.00, 0.50,0.23, 0.51,0.14, 0.52,0.42, 0.52,0.04,
 0.53,0.30, 0.54,0.19, 0.54,0.08, 0.55,0.00, 0.56,0.26, 0.56,0.13, 0.57,0.36, 0.58,0.03, 0.58,0.21, 0.59,0.10,
 0.60,0.30, 0.60,0.00, 0.61,0.16, 0.62,0.45, 0.62,0.06, 0.63,0.25, 0.64,0.12, 0.64,0.02, 0.65,0.34, 0.66,0.18,
 0.66,0.08, 0.67,0.27, 0.68,0.00, 0.68,0.14, 0.69,0.38, 0.70,0.05, 0.70,0.22, 0.71,0.11, 0.72,0.30, 0.72,0.01,
 0.73,0.17, 0.74,0.07, 0.75,0.25, 0.76,0.00, 0.76,0.13, 0.77,0.33, 0.78,0.04, 0.79,0.19, 0.80,0.10, 0.81,0.28,
 0.82,0.02, 0.83,0.15, 0.84,0.06, 0.85,0.21, 0.55,0.50, 0.60,0.52, 0.66,0.48, 0.47,0.00, 0.53,0.00, 0.65,0.00,
 0.72,0.00,
 0.45,0.05, 0.46,0.17, 0.47,0.25, 0.48,0.10, 0.49,0.02, 0.50,0.14, 0.51,0.28, 0.52,0.08, 0.53,0.18, 0.54,0.01,
 0.55,0.12, 0.56,0.22, 0.57,0.05, 0.58,0.15, 0.59,0.27, 0.60,0.08, 0.61,0.02, 0.62,0.19, 0.63,0.12, 0.64,0.30,
 0.65,0.06, 0.66,0.14, 0.67,0.02, 0.68,0.22, 0.69,0.10, 0.70,0.15, 0.71,0.03, 0.72,0.24, 0.73,0.09, 0.74,0.18,
 0.75,0.01, 0.58,0.38, 0.63,0.40, 0.50,0.38, 0.70,0.36]

pts_cg14775423 = [
 0.196,3.18, 0.174,3.00, 0.136,2.82, 0.198,2.75, 0.141,2.60, 0.135,2.42, 0.159,2.45, 0.174,2.47, 0.169,2.29,
 0.229,2.29, 0.101,2.16, 0.223,2.20, 0.242,2.12, 0.416,2.23, 0.482,2.15, 0.169,2.04, 0.186,1.97, 0.196,1.88,
 0.239,1.91, 0.268,1.89, 0.135,1.76, 0.171,1.76, 0.217,1.82, 0.234,1.76, 0.147,1.70, 0.189,1.73, 0.120,1.63,
 0.207,1.57, 0.274,1.57, 0.171,1.53, 0.613,1.66, 0.478,1.60, 0.501,1.51, 0.647,1.51, 0.786,1.55, 0.207,1.44,
 0.147,1.38, 0.183,1.35, 0.271,1.35, 0.113,1.29, 0.165,1.29, 0.222,1.32, 0.605,1.30, 0.626,1.32, 0.712,1.27,
 0.740,1.26, 0.764,1.22, 0.855,1.24, 0.490,1.24, 0.641,1.23, 0.132,1.23, 0.177,1.14, 0.222,1.07, 0.656,1.05,
 0.700,1.05, 0.729,1.02, 0.802,1.04, 0.847,1.04, 0.143,1.02, 0.282,1.01, 0.217,0.98, 0.244,0.95, 0.837,0.95,
 0.144,0.91, 0.279,0.92, 0.607,0.88, 0.632,0.91, 0.698,0.89, 0.801,0.88, 0.826,0.92, 0.134,0.86, 0.189,0.86,
 0.407,0.84, 0.684,0.85, 0.855,0.85, 0.199,0.79, 0.650,0.79, 0.867,0.79, 0.861,0.76, 0.162,0.70, 0.153,0.66,
 0.714,0.73, 0.717,0.68, 0.775,0.71, 0.802,0.74, 0.680,0.66, 0.746,0.67, 0.181,0.63, 0.207,0.63, 0.825,0.64,
 0.143,0.55, 0.168,0.60, 0.217,0.55, 0.583,0.54, 0.729,0.55, 0.898,0.55, 0.165,0.48, 0.207,0.46, 0.622,0.46,
 0.214,0.39, 0.550,0.40, 0.365,0.37, 0.141,0.32, 0.195,0.35, 0.213,0.35, 0.193,0.15, 0.228,0.06, 0.350,0.19,
 0.381,0.24, 0.498,0.22, 0.486,0.16, 0.504,0.05, 0.565,0.05, 0.595,0.06, 0.629,0.05, 0.583,0.19, 0.629,0.29,
 0.160,1.60, 0.175,1.45, 0.150,1.10, 0.165,0.75,
 0.150,1.85, 0.180,1.65, 0.165,1.40, 0.195,1.20, 0.175,1.00, 0.150,0.80, 0.185,0.55,
 0.61,0.08, 0.62,0.20, 0.63,0.02, 0.64,0.13, 0.65,0.30, 0.66,0.05, 0.67,0.18, 0.68,0.00, 0.69,0.10, 0.70,0.25,
 0.70,0.40, 0.71,0.04, 0.72,0.15, 0.73,0.32, 0.73,0.00, 0.74,0.09, 0.75,0.22, 0.75,0.45, 0.76,0.13, 0.77,0.02,
 0.77,0.30, 0.78,0.18, 0.78,0.07, 0.79,0.38, 0.79,0.24, 0.80,0.00, 0.80,0.12, 0.81,0.50, 0.81,0.28, 0.82,0.05,
 0.82,0.17, 0.83,0.35, 0.83,0.09, 0.84,0.22, 0.84,0.00, 0.85,0.42, 0.85,0.14, 0.86,0.30, 0.86,0.04, 0.87,0.19,
 0.87,0.55, 0.88,0.10, 0.88,0.26, 0.89,0.00, 0.89,0.37, 0.90,0.15, 0.90,0.06, 0.91,0.23, 0.91,0.45, 0.92,0.11,
 0.92,0.02, 0.93,0.18, 0.93,0.30, 0.84,0.62, 0.86,0.68, 0.82,0.60, 0.88,0.64, 0.79,0.00, 0.86,0.00, 0.91,0.00,
 0.76,0.35, 0.80,0.20, 0.87,0.12, 0.90,0.28,
 0.75,0.10, 0.76,0.03, 0.76,0.25, 0.77,0.15, 0.78,0.32, 0.78,0.00, 0.79,0.10, 0.80,0.28, 0.80,0.06, 0.81,0.17,
 0.82,0.38, 0.82,0.01, 0.83,0.20, 0.84,0.11, 0.84,0.30, 0.85,0.05, 0.85,0.24, 0.86,0.14, 0.87,0.40, 0.87,0.03,
 0.88,0.18, 0.89,0.08, 0.89,0.27, 0.90,0.35, 0.90,0.02, 0.91,0.12, 0.91,0.32, 0.92,0.06, 0.92,0.22, 0.86,0.50,
 0.83,0.48, 0.89,0.52, 0.80,0.45, 0.85,0.60, 0.88,0.44]

pts_cg11482719 = [
 0.088,3.18, 0.081,3.00, 0.040,2.82, 0.049,2.75, 0.046,2.60, 0.059,2.47, 0.098,2.42, 0.057,2.29, 0.152,2.23,
 0.361,2.15, 0.072,2.22, 0.108,2.12, 0.068,2.04, 0.045,1.95, 0.081,1.94, 0.043,1.88, 0.098,1.79, 0.057,1.75,
 0.043,1.58, 0.075,1.64, 0.094,1.55, 0.340,1.66, 0.210,1.51, 0.380,1.51, 0.500,1.55, 0.603,1.60, 0.055,1.44,
 0.107,1.41, 0.046,1.32, 0.285,1.30, 0.472,1.32, 0.504,1.27, 0.184,1.23, 0.339,1.23, 0.406,1.26, 0.603,1.23,
 0.594,1.20, 0.120,1.27, 0.062,1.23, 0.079,1.14, 0.207,1.08, 0.403,1.04, 0.451,1.02, 0.500,1.05, 0.526,1.04,
 0.539,1.02, 0.043,0.99, 0.075,0.99, 0.117,0.98, 0.034,0.91, 0.062,0.92, 0.120,0.92, 0.326,0.91, 0.603,0.96,
 0.616,0.92, 0.365,0.86, 0.446,0.86, 0.532,0.88, 0.622,0.86, 0.613,0.82, 0.085,0.80, 0.390,0.79, 0.543,0.79,
 0.732,0.79, 0.053,0.73, 0.081,0.70, 0.410,0.74, 0.494,0.73, 0.571,0.70, 0.729,0.74, 0.526,0.67, 0.809,0.64,
 0.072,0.61, 0.571,0.63, 0.603,0.64, 0.644,0.61, 0.062,0.55, 0.117,0.55, 0.571,0.54, 0.674,0.55, 0.716,0.55,
 0.758,0.57, 0.789,0.55, 0.323,0.46, 0.380,0.48, 0.500,0.49, 0.097,0.43, 0.380,0.42, 0.429,0.43, 0.603,0.45,
 0.068,0.37, 0.880,0.33, 0.027,0.32, 0.345,0.29, 0.378,0.24, 0.423,0.35, 0.073,0.15, 0.197,0.17, 0.229,0.20,
 0.133,0.06, 0.281,0.05, 0.313,0.12, 0.323,0.01, 0.378,0.05, 0.910,0.08, 0.060,1.70, 0.070,1.50, 0.052,1.10,
 0.045,2.00, 0.060,1.80, 0.050,1.62, 0.065,1.45, 0.058,1.35, 0.048,1.15, 0.070,1.00, 0.055,0.85, 0.065,0.65,
 0.39,0.08, 0.40,0.20, 0.42,0.02, 0.43,0.14, 0.44,0.30, 0.45,0.05, 0.46,0.22, 0.47,0.00, 0.48,0.11, 0.49,0.35,
 0.50,0.17, 0.51,0.03, 0.52,0.26, 0.53,0.09, 0.54,0.40, 0.55,0.14, 0.55,0.00, 0.56,0.30, 0.57,0.07, 0.58,0.21,
 0.58,0.45, 0.59,0.12, 0.60,0.02, 0.60,0.33, 0.61,0.18, 0.62,0.06, 0.62,0.26, 0.63,0.38, 0.64,0.11, 0.64,0.00,
 0.65,0.22, 0.66,0.15, 0.66,0.04, 0.67,0.31, 0.68,0.09, 0.68,0.19, 0.69,0.42, 0.70,0.01, 0.70,0.25, 0.71,0.13,
 0.72,0.06, 0.72,0.35, 0.73,0.18, 0.74,0.00, 0.74,0.28, 0.75,0.10, 0.76,0.21, 0.77,0.04, 0.77,0.37, 0.78,0.14,
 0.79,0.25, 0.80,0.02, 0.81,0.17, 0.82,0.08, 0.83,0.29, 0.84,0.12, 0.85,0.00, 0.86,0.20, 0.87,0.06, 0.88,0.15,
 0.89,0.03, 0.90,0.10, 0.61,0.50, 0.66,0.55, 0.57,0.52, 0.52,0.00, 0.59,0.00, 0.67,0.00, 0.79,0.00,
 0.55,0.22, 0.56,0.07, 0.57,0.15, 0.58,0.02, 0.59,0.26, 0.60,0.10, 0.61,0.05, 0.62,0.16, 0.63,0.24, 0.63,0.02,
 0.64,0.30, 0.65,0.09, 0.66,0.20, 0.67,0.01, 0.67,0.13, 0.68,0.27, 0.69,0.06, 0.70,0.17, 0.71,0.02, 0.71,0.32,
 0.72,0.12, 0.73,0.22, 0.74,0.06, 0.75,0.16, 0.76,0.01, 0.76,0.28, 0.77,0.11, 0.78,0.20, 0.79,0.05, 0.80,0.12,
 0.62,0.40, 0.65,0.42, 0.69,0.36, 0.73,0.40]

pts_cg07664553 = [
 0.170,3.18, 0.140,3.00, 0.093,2.82, 0.130,2.75, 0.138,2.60, 0.136,2.51, 0.089,2.44, 0.131,2.44, 0.147,2.45,
 0.108,2.29, 0.207,2.29, 0.208,2.22, 0.038,2.16, 0.261,2.15, 0.166,2.12, 0.128,2.04, 0.172,1.98, 0.102,1.95,
 0.144,1.91, 0.198,1.91, 0.236,1.83, 0.112,1.79, 0.153,1.83, 0.204,1.78, 0.121,1.72, 0.172,1.73, 0.221,1.66,
 0.102,1.60, 0.259,1.57, 0.287,1.57, 0.108,1.53, 0.342,1.51, 0.430,1.51, 0.639,1.55, 0.838,1.60, 0.121,1.44,
 0.153,1.38, 0.115,1.35, 0.472,1.31, 0.529,1.27, 0.561,1.24, 0.542,1.23, 0.622,1.23, 0.353,1.30, 0.285,1.30,
 0.182,1.27, 0.246,1.23, 0.134,1.20, 0.204,1.16, 0.153,1.13, 0.287,1.05, 0.440,1.05, 0.500,1.02, 0.746,1.04,
 0.714,0.96, 0.096,1.01, 0.179,0.99, 0.333,0.95, 0.096,0.92, 0.131,0.92, 0.159,0.89, 0.223,0.89, 0.274,0.88,
 0.705,0.92, 0.638,0.86, 0.653,0.85, 0.093,0.85, 0.450,0.85, 0.325,0.83, 0.529,0.79, 0.705,0.82, 0.179,0.80,
 0.797,0.77, 0.749,0.76, 0.170,0.73, 0.099,0.71, 0.221,0.70, 0.463,0.73, 0.555,0.71, 0.345,0.67, 0.102,0.64,
 0.140,0.63, 0.221,0.58, 0.608,0.63, 0.304,0.58, 0.778,0.63, 0.804,0.57, 0.886,0.55, 0.858,0.52, 0.096,0.55,
 0.134,0.52, 0.364,0.52, 0.108,0.46, 0.276,0.48, 0.417,0.49, 0.510,0.52, 0.140,0.40, 0.874,0.40, 0.909,0.39,
 0.098,0.32, 0.276,0.30, 0.304,0.30, 0.315,0.24, 0.191,0.21, 0.185,0.14, 0.175,0.05, 0.210,0.00, 0.307,0.05,
 0.351,0.20, 0.345,0.14, 0.364,0.09, 0.386,0.11, 0.899,0.00,
 0.120,2.10, 0.140,1.85, 0.115,1.65, 0.130,1.45, 0.105,1.25, 0.125,1.05, 0.115,0.80, 0.135,0.70,
 0.38,0.15, 0.39,0.02, 0.40,0.28, 0.41,0.08, 0.42,0.20, 0.43,0.00, 0.44,0.35, 0.45,0.12, 0.46,0.05, 0.46,0.24,
 0.47,0.16, 0.48,0.40, 0.48,0.01, 0.49,0.30, 0.50,0.09, 0.50,0.19, 0.51,0.00, 0.52,0.26, 0.52,0.13, 0.53,0.45,
 0.54,0.05, 0.54,0.22, 0.55,0.33, 0.56,0.10, 0.56,0.00, 0.57,0.18, 0.58,0.28, 0.58,0.06, 0.59,0.14, 0.60,0.38,
 0.60,0.02, 0.61,0.22, 0.62,0.10, 0.62,0.30, 0.63,0.00, 0.64,0.16, 0.64,0.42, 0.65,0.07, 0.66,0.25, 0.66,0.13,
 0.67,0.03, 0.68,0.20, 0.68,0.35, 0.69,0.09, 0.70,0.00, 0.70,0.27, 0.71,0.15, 0.72,0.05, 0.73,0.22, 0.74,0.11,
 0.75,0.32, 0.75,0.01, 0.76,0.17, 0.77,0.07, 0.78,0.26, 0.79,0.13, 0.80,0.00, 0.81,0.20, 0.82,0.09, 0.83,0.30,
 0.84,0.04, 0.85,0.15, 0.86,0.25, 0.87,0.06, 0.88,0.12, 0.89,0.02, 0.60,0.50, 0.65,0.52, 0.55,0.48, 0.72,0.45,
 0.45,0.20, 0.46,0.10, 0.47,0.02, 0.48,0.15, 0.49,0.22, 0.50,0.04, 0.51,0.12, 0.52,0.30, 0.53,0.07, 0.54,0.16,
 0.55,0.01, 0.56,0.24, 0.57,0.08, 0.58,0.14, 0.59,0.22, 0.60,0.06, 0.61,0.12, 0.62,0.02, 0.63,0.20, 0.64,0.08,
 0.65,0.28, 0.66,0.04, 0.67,0.15, 0.68,0.10, 0.69,0.24, 0.70,0.13, 0.71,0.02, 0.72,0.18, 0.73,0.10, 0.74,0.03,
 0.75,0.20, 0.57,0.38, 0.62,0.40, 0.67,0.36, 0.52,0.38]

pts_cg10737307 = [
 0.832,3.18, 0.904,3.00, 0.807,2.82, 0.895,2.75, 0.885,2.60, 0.803,2.50, 0.816,2.44, 0.845,2.45, 0.886,2.42,
 0.901,2.45, 0.803,2.31, 0.790,2.23, 0.801,2.20, 0.878,2.29, 0.880,2.16, 0.927,2.16, 0.859,2.12, 0.793,2.04,
 0.825,1.98, 0.842,1.96, 0.854,1.92, 0.859,1.89, 0.875,1.89, 0.762,1.83, 0.837,1.86, 0.853,1.82, 0.836,1.78,
 0.789,1.75, 0.792,1.72, 0.816,1.70, 0.856,1.72, 0.895,1.76, 0.870,1.66, 0.807,1.64, 0.819,1.67, 0.762,1.58,
 0.779,1.57, 0.791,1.55, 0.805,1.58, 0.834,1.54, 0.855,1.54, 0.877,1.55, 0.919,1.60, 0.762,1.50, 0.837,1.48,
 0.859,1.45, 0.857,1.38, 0.889,1.39, 0.816,1.32, 0.848,1.32, 0.859,1.30, 0.837,1.29, 0.911,1.30, 0.924,1.27,
 0.537,1.30, 0.737,1.23, 0.768,1.27, 0.785,1.23, 0.857,1.24, 0.857,1.19, 0.848,1.16, 0.835,1.08, 0.823,1.02,
 0.854,1.04, 0.871,1.04, 0.898,1.04, 0.851,0.98, 0.866,0.95, 0.762,0.92, 0.779,0.95, 0.785,0.89, 0.828,0.92,
 0.859,0.91, 0.883,0.88, 0.890,0.86, 0.626,0.86, 0.654,0.84, 0.781,0.82, 0.842,0.80, 0.885,0.82, 0.821,0.79,
 0.791,0.74, 0.801,0.71, 0.766,0.73, 0.848,0.74, 0.889,0.73, 0.758,0.65, 0.796,0.65, 0.816,0.67, 0.830,0.64,
 0.858,0.64, 0.866,0.61, 0.912,0.68, 0.733,0.52, 0.766,0.55, 0.912,0.52, 0.916,0.40, 0.658,0.40, 0.705,0.39,
 0.760,0.43, 0.626,0.17, 0.632,0.14, 0.578,0.21, 0.603,0.24, 0.579,0.08, 0.638,0.08, 0.647,0.02, 0.658,0.14,
 0.667,0.02, 0.683,0.00, 0.690,0.15, 0.708,0.20, 0.714,0.26, 0.726,0.08, 0.734,0.12, 0.935,0.00, 0.924,0.26,
 0.735,0.05, 0.742,0.20, 0.748,0.02, 0.754,0.30, 0.760,0.10, 0.765,0.00, 0.770,0.25, 0.774,0.14, 0.778,0.40,
 0.782,0.05, 0.786,0.20, 0.790,0.32, 0.793,0.00, 0.797,0.12, 0.800,0.45, 0.803,0.24, 0.806,0.07, 0.809,0.17,
 0.812,0.36, 0.815,0.01, 0.818,0.28, 0.821,0.11, 0.824,0.50, 0.827,0.20, 0.830,0.04, 0.833,0.33, 0.836,0.15,
 0.839,0.00, 0.842,0.25, 0.845,0.42, 0.848,0.09, 0.851,0.19, 0.854,0.30, 0.857,0.03, 0.860,0.14, 0.863,0.38,
 0.866,0.22, 0.869,0.06, 0.872,0.00, 0.875,0.28, 0.878,0.12, 0.881,0.45, 0.884,0.18, 0.887,0.03, 0.890,0.33,
 0.893,0.09, 0.896,0.22, 0.899,0.00, 0.903,0.15, 0.907,0.40, 0.911,0.06, 0.915,0.27, 0.919,0.12, 0.923,0.02,
 0.927,0.19, 0.930,0.08, 0.810,0.60, 0.840,0.58, 0.860,0.55, 0.790,0.55, 0.780,0.00, 0.810,0.00, 0.850,0.00,
 0.880,0.06, 0.820,0.14, 0.845,0.30,
 0.780,0.14, 0.784,0.03, 0.788,0.26, 0.792,0.10, 0.796,0.20, 0.800,0.02, 0.804,0.33, 0.808,0.12, 0.812,0.24,
 0.816,0.06, 0.820,0.16, 0.824,0.30, 0.828,0.02, 0.832,0.12, 0.836,0.22, 0.840,0.08, 0.844,0.18, 0.848,0.35,
 0.852,0.04, 0.856,0.14, 0.860,0.25, 0.864,0.09, 0.868,0.02, 0.872,0.18, 0.876,0.36, 0.880,0.12, 0.884,0.26,
 0.888,0.05, 0.892,0.15, 0.896,0.30, 0.900,0.08, 0.905,0.20, 0.910,0.02, 0.826,0.42, 0.850,0.45, 0.870,0.48,
 0.835,0.55, 0.812,0.48, 0.795,0.40]

pts_aggregation = [
 0.289,3.20, 0.279,3.02, 0.240,2.83, 0.260,2.76, 0.388,2.61, 0.261,2.46, 0.277,2.50, 0.275,2.44, 0.283,2.42,
 0.261,2.30, 0.284,2.29, 0.377,2.24, 0.269,2.17, 0.287,2.21, 0.476,2.16, 0.309,2.12, 0.336,2.04, 0.248,1.93,
 0.265,1.95, 0.283,1.98, 0.287,1.90, 0.248,1.84, 0.265,1.78, 0.273,1.72, 0.283,1.77, 0.305,1.83, 0.257,1.72,
 0.307,1.72, 0.227,1.63, 0.261,1.60, 0.288,1.59, 0.268,1.54, 0.523,1.66, 0.561,1.60, 0.585,1.51, 0.491,1.53,
 0.690,1.56, 0.447,1.41, 0.284,1.41, 0.293,1.36, 0.259,1.38, 0.626,1.31, 0.626,1.27, 0.512,1.31, 0.362,1.28,
 0.274,1.30, 0.302,1.27, 0.248,1.22, 0.265,1.21, 0.444,1.25, 0.566,1.22, 0.711,1.22, 0.752,1.24, 0.263,1.15,
 0.278,1.13, 0.447,1.07, 0.546,1.04, 0.626,1.06, 0.633,1.03, 0.711,1.04, 0.690,1.03, 0.284,1.01, 0.312,1.00,
 0.360,1.01, 0.371,1.00, 0.293,0.94, 0.325,0.93, 0.241,0.91, 0.259,0.87, 0.728,0.92, 0.746,0.97, 0.749,0.89,
 0.541,0.88, 0.566,0.87, 0.645,0.86, 0.707,0.86, 0.337,0.86, 0.476,0.84, 0.272,0.86, 0.284,0.78, 0.750,0.78,
 0.584,0.78, 0.779,0.77, 0.265,0.74, 0.248,0.65, 0.278,0.69, 0.349,0.67, 0.611,0.68, 0.632,0.71, 0.664,0.68,
 0.747,0.69, 0.259,0.62, 0.275,0.59, 0.824,0.60, 0.847,0.54, 0.228,0.54, 0.251,0.54, 0.284,0.56, 0.288,0.53,
 0.333,0.58, 0.573,0.53, 0.617,0.54, 0.650,0.51, 0.764,0.50, 0.265,0.47, 0.799,0.51, 0.359,0.43, 0.517,0.43,
 0.524,0.37, 0.584,0.43, 0.599,0.39, 0.850,0.43, 0.281,0.35, 0.301,0.31, 0.563,0.33, 0.522,0.28, 0.611,0.25,
 0.879,0.27, 0.414,0.19, 0.535,0.08, 0.542,0.15, 0.561,0.18, 0.569,0.12, 0.611,0.07, 0.620,0.01, 0.889,0.00,
 0.262,2.40, 0.275,2.10, 0.255,1.88, 0.270,1.65, 0.280,1.45, 0.265,1.30, 0.290,1.10, 0.272,0.95, 0.258,0.75,
 0.282,0.62,
 0.635,0.05, 0.640,0.20, 0.648,0.00, 0.655,0.12, 0.662,0.30, 0.668,0.06, 0.674,0.18, 0.680,0.00, 0.685,0.25,
 0.690,0.10, 0.694,0.40, 0.698,0.03, 0.702,0.16, 0.706,0.30, 0.710,0.08, 0.714,0.22, 0.718,0.00, 0.722,0.13,
 0.726,0.35, 0.730,0.05, 0.734,0.19, 0.738,0.27, 0.742,0.01, 0.746,0.11, 0.750,0.42, 0.754,0.16, 0.758,0.06,
 0.762,0.24, 0.766,0.00, 0.770,0.33, 0.774,0.13, 0.778,0.20, 0.782,0.03, 0.786,0.28, 0.790,0.09, 0.794,0.17,
 0.798,0.38, 0.802,0.00, 0.806,0.12, 0.810,0.24, 0.815,0.05, 0.820,0.31, 0.825,0.15, 0.830,0.02, 0.835,0.22,
 0.840,0.10, 0.845,0.36, 0.850,0.04, 0.855,0.18, 0.860,0.08, 0.865,0.26, 0.870,0.01, 0.875,0.14, 0.880,0.06,
 0.885,0.20, 0.700,0.55, 0.725,0.50, 0.745,0.60, 0.775,0.48, 0.690,0.00, 0.730,0.00, 0.760,0.10, 0.795,0.00,
 0.815,0.17, 0.710,0.42,
 0.680,0.14, 0.684,0.04, 0.688,0.22, 0.692,0.10, 0.696,0.30, 0.700,0.02, 0.704,0.18, 0.708,0.08, 0.712,0.26,
 0.716,0.13, 0.720,0.05, 0.724,0.20, 0.728,0.32, 0.732,0.10, 0.736,0.02, 0.740,0.16, 0.744,0.25, 0.748,0.07,
 0.752,0.19, 0.756,0.30, 0.760,0.03, 0.764,0.14, 0.768,0.22, 0.772,0.06, 0.776,0.28, 0.780,0.12, 0.784,0.18,
 0.788,0.00, 0.792,0.24, 0.796,0.10, 0.800,0.16, 0.805,0.30, 0.810,0.05, 0.815,0.20, 0.820,0.11, 0.825,0.02,
 0.830,0.26, 0.835,0.14, 0.840,0.06, 0.705,0.40, 0.740,0.38, 0.770,0.40]

panel_points = [pts_cg09992215, pts_cg04638014, pts_cg00244517, pts_cg02786012, pts_cg06922635,
                pts_cg15846316, pts_cg04528060, pts_cg07846311, pts_cg14775423, pts_cg11482719,
                pts_cg07664553, pts_cg10737307, pts_aggregation]

# ---------------- layout (pixels of a 4350 x 2350 canvas) ----------------
W, H = 4350, 2350
fig = plt.figure(figsize=(W / 300, H / 300), dpi=300)
col_left = [88, 801, 1515, 2228, 2941, 3654]
pw = 691
strip_top = [6, 796, 1586]
sh = 63
ph = 652

red = '#E8161B'
grid_c = '#EBEBEB'
frame_c = '#333333'

for i, name in enumerate(panel_names):
    r, c = divmod(i, 6)
    left = col_left[c]
    st = strip_top[r]
    ptop = st + sh
    ax = fig.add_axes([left / W, 1 - (ptop + ph) / H, pw / W, ph / H])
    sax = fig.add_axes([left / W, 1 - ptop / H, pw / W, sh / H])

    # strip
    sax.set_facecolor('#D9D9D9')
    sax.set_xticks([]); sax.set_yticks([])
    for s in sax.spines.values():
        s.set_color(frame_c); s.set_linewidth(1.0)
    sax.text(0.5, 0.47, name, ha='center', va='center', fontsize=8.8, color='#1A1A1A',
             transform=sax.transAxes)

    pts = np.array(panel_points[i], dtype=float).reshape(-1, 2)
    xs, ys = pts[:, 0], pts[:, 1]
    xmin, xmax = xs.min(), xs.max()
    rng = xmax - xmin
    ax.set_xlim(xmin - 0.05 * rng, xmax + 0.05 * rng)
    ax.set_ylim(*y_limits)

    # grid
    major = x_ticks[i]
    step = major[1] - major[0]
    ext = [major[0] - step] + list(major) + [major[-1] + step]
    minors = [(a + b) / 2 for a, b in zip(ext[:-1], ext[1:])]
    for v in minors:
        ax.axvline(v, color=grid_c, lw=0.75, zorder=0)
    for v in major:
        ax.axvline(v, color=grid_c, lw=1.5, zorder=0)
    for v in y_minor:
        ax.axhline(v, color=grid_c, lw=0.75, zorder=0)
    for v in y_ticks:
        ax.axhline(v, color=grid_c, lw=1.5, zorder=0)

    # points
    ax.scatter(xs, ys, s=48, c='black', alpha=0.45, linewidths=0, zorder=2)

    # fitted line + confidence band
    xf = np.linspace(xmin, xmax, 120)
    slope = (fit_y_end[i] - fit_y_start[i]) / (xmax - xmin)
    yf = fit_y_start[i] + slope * (xf - xmin)
    xc = band_center[i]
    b = (band_hw_start[i] ** 2 - band_hw_min[i] ** 2) / (xmin - xc) ** 2
    hw = np.sqrt(band_hw_min[i] ** 2 + b * (xf - xc) ** 2)
    ax.fill_between(xf, yf - hw, yf + hw, color='#999999', alpha=0.4, lw=0, zorder=3)
    ax.plot(xf, yf, color=red, lw=2.2, zorder=4, solid_capstyle='butt')

    # correlation label
    ax.text(xmin, 3.0, '$R$ = ' + r_labels[i] + ' , $p$ ' + p_labels[i], color=red,
            fontsize=8.8, ha='left', va='center', zorder=5)

    # axes styling
    ax.set_xticks(major)
    ax.set_xticklabels(x_tick_labels[i])
    ax.set_yticks(y_ticks)
    ax.set_yticklabels(y_tick_labels)
    ax.tick_params(axis='both', length=2.75, width=1.0, color=frame_c, labelsize=8.8,
                   labelcolor='#1A1A1A', pad=2.2)
    if c > 0:
        ax.tick_params(axis='y', left=False, labelleft=False)
    for s in ax.spines.values():
        s.set_color(frame_c); s.set_linewidth(1.0); s.set_zorder(6)

fig.text(30 / W, 1 - 1180 / H, y_title, rotation=90, ha='center', va='center',
         fontsize=8, color='black')

fig.savefig('out.png', dpi=300)
